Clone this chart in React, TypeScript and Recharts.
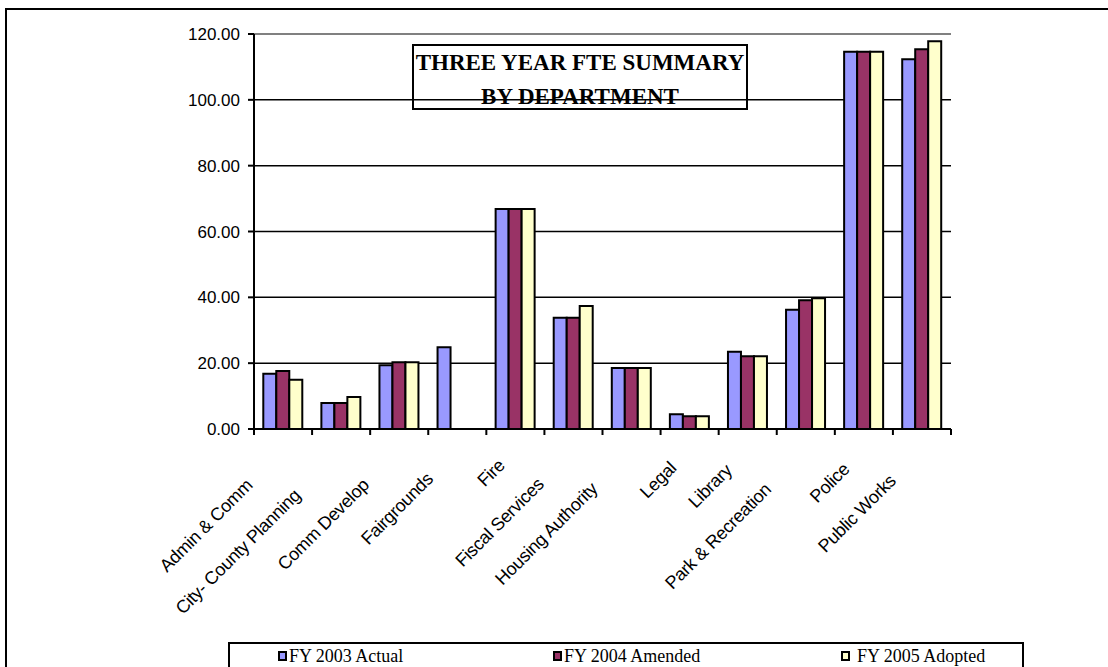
import React from 'react';
import { BarChart, Bar, XAxis, YAxis, CartesianGrid, ReferenceLine } from 'recharts';

const categories = [
    'Admin & Comm',
    'City- County Planning',
    'Comm Develop',
    'Fairgrounds',
    'Fire',
    'Fiscal Services',
    'Housing Authority',
    'Legal',
    'Library',
    'Park & Recreation',
    'Police',
    'Public Works',
];

const fy2003Actual = [16.8, 7.9, 19.4, 24.8, 66.8, 33.8, 18.5, 4.5, 23.5, 36.2, 114.6, 112.3];
const fy2004Amended = [17.6, 7.9, 20.3, 0, 66.8, 33.8, 18.5, 3.9, 22.1, 39.1, 114.6, 115.4];
const fy2005Adopted = [15.0, 9.7, 20.3, 0, 66.8, 37.4, 18.5, 3.9, 22.1, 39.7, 114.6, 117.8];

const seriesNames = ['FY 2003 Actual', 'FY 2004 Amended', 'FY 2005 Adopted'];
const seriesKeys = ['fy2003', 'fy2004', 'fy2005'];
const seriesColors = ['#9999FF', '#993366', '#FFFFCC'];

const yTicks = [0, 20, 40, 60, 80, 100, 120];

const data = categories.map((name, i) => ({
    name,
    fy2003: fy2003Actual[i],
    fy2004: fy2004Amended[i],
    fy2005: fy2005Adopted[i],
}));

// layout
const W = 1108;
const H = 667;
const PLOT_LEFT = 254;
const PLOT_RIGHT = 951;
const PLOT_TOP = 34;
const PLOT_BOTTOM = 429;
const BAND = (PLOT_RIGHT - PLOT_LEFT) / categories.length;

const SANS = '"Liberation Sans", Arial, sans-serif';
const SERIF = '"Liberation Serif", "Times New Roman", serif';

let measureCtx: CanvasRenderingContext2D | null = null;
const textWidth = (s: string, font: string) => {
    if (!measureCtx) measureCtx = document.createElement('canvas').getContext('2d');
    if (!measureCtx) return s.length * 9;
    measureCtx.font = font;
    return measureCtx.measureText(s).width;
};

const CategoryTick = (props: any) => {
    const { x, payload, index } = props;
    const label: string = payload.value;
    const L = textWidth(label, `18px ${SANS}`);
    // Excel-style placement: label sits up-left of its category, longer ones pushed further along
    const ex = x - 3 - 0.21 * L;
    const ey = PLOT_BOTTOM + 31 + 0.21 * L;
    const left = x - BAND / 2;
    return (
        <g>
            <line x1={left} y1={PLOT_BOTTOM} x2={left} y2={PLOT_BOTTOM + 6} stroke="#000" strokeWidth={2} />
            {index === categories.length - 1 && (
                <line x1={x + BAND / 2} y1={PLOT_BOTTOM} x2={x + BAND / 2} y2={PLOT_BOTTOM + 6} stroke="#000" strokeWidth={2} />
            )}
            <text
                x={ex}
                y={ey}
                textAnchor="end"
                fontSize={18}
                fontFamily={SANS}
                fill="#000"
                letterSpacing={-0.3}
                transform={`rotate(-45 ${ex} ${ey})`}
            >
                {label}
            </text>
        </g>
    );
};

const legendLeft = [278, 553, 841];

export default function App() {
    return (
        <div style={{ position: 'absolute', left: 0, top: 0, width: W, height: H, overflow: 'hidden', background: '#fff' }}>
            <div style={{ position: 'absolute', left: 5, top: 8, width: W + 20, height: H + 20, border: '2px solid #000', boxSizing: 'border-box' }} />
            <BarChart
                width={W}
                height={H}
                data={data}
                margin={{ top: PLOT_TOP, right: W - PLOT_RIGHT, left: PLOT_LEFT - 60, bottom: H - PLOT_BOTTOM - 100 }}
                barCategoryGap="16%"
                barGap={0}
                style={{ position: 'absolute', left: 0, top: 0 }}
            >
                <CartesianGrid vertical={false} stroke="#000" strokeWidth={1.5} yAxisId="left" />
                <XAxis
                    dataKey="name"
                    interval={0}
                    height={100}
                    tickLine={false}
                    axisLine={{ stroke: '#000', strokeWidth: 2 }}
                    tick={<CategoryTick />}
                />
                <YAxis
                    yAxisId="left"
                    width={60}
                    domain={[0, 120]}
                    ticks={yTicks}
                    tickFormatter={(v: number) => v.toFixed(2)}
                    tickMargin={8}
                    tickSize={6}
                    axisLine={{ stroke: '#000', strokeWidth: 2 }}
                    tickLine={{ stroke: '#000', strokeWidth: 2 }}
                    tick={{ fontSize: 17, fontFamily: SANS, fill: '#000' }}
                />
                <YAxis
                    yAxisId="right"
                    orientation="right"
                    width={0}
                    domain={[0, 120]}
                    tick={false}
                    tickLine={false}
                    axisLine={{ stroke: '#808080', strokeWidth: 2 }}
                />
                <ReferenceLine yAxisId="left" y={120} stroke="#808080" strokeWidth={2} />
                {seriesKeys.map((k, i) => (
                    <Bar
                        key={k}
                        yAxisId="left"
                        dataKey={k}
                        name={seriesNames[i]}
                        fill={seriesColors[i]}
                        stroke="#000"
                        strokeWidth={2}
                        isAnimationActive={false}
                    />
                ))}
            </BarChart>

            {/* title box */}
            <div
                style={{
                    position: 'absolute',
                    left: 412,
                    top: 44,
                    width: 336,
                    height: 66,
                    border: '2px solid #000',
                    boxSizing: 'border-box',
                    fontFamily: SERIF,
                    fontWeight: 'bold',
                    fontSize: 23,
                    lineHeight: '34px',
                    textAlign: 'center',
                    color: '#000',
                }}
            >
                THREE YEAR FTE SUMMARY
                <br />
                BY DEPARTMENT
            </div>

            {/* legend */}
            <div
                style={{
                    position: 'absolute',
                    left: 228,
                    top: 642,
                    width: 796,
                    height: 40,
                    border: '2px solid #000',
                    boxSizing: 'border-box',
                }}
            >
                {seriesNames.map((n, i) => (
                    <div
                        key={n}
                        style={{
                            position: 'absolute',
                            left: legendLeft[i] - 230,
                            top: 2,
                            display: 'flex',
                            alignItems: 'center',
                            fontFamily: SERIF,
                            fontSize: 18,
                            lineHeight: '20px',
                            color: '#000',
                            whiteSpace: 'nowrap',
                        }}
                    >
                        <span
                            style={{
                                display: 'inline-block',
                                width: 9,
                                height: 10,
                                background: seriesColors[i],
                                border: '2px solid #000',
                                boxSizing: 'border-box',
                                marginRight: i === 2 ? 7 : 2,
                            }}
                        />
                        {n}
                    </div>
                ))}
            </div>
        </div>
    );
}
